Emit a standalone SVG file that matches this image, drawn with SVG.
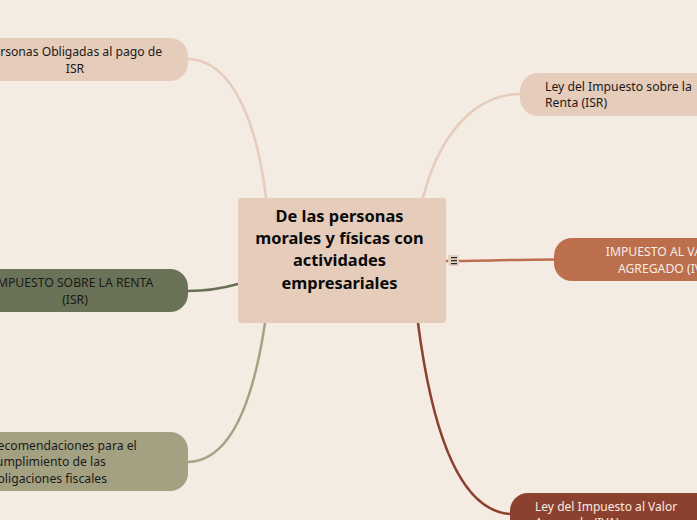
<svg xmlns="http://www.w3.org/2000/svg" width="697" height="520" viewBox="0 0 697 520">
<style>
text{font-family:"Noto Sans",sans-serif;font-size:12.2px;fill:#1a1a1a}
.w{fill:#f5ece4}
.c{text-anchor:middle}
.t{font-size:16.4px;font-weight:700;fill:#0a0a0a;text-anchor:middle}
.l{fill:none;stroke-width:2.5;stroke-linecap:round}
</style>
<rect width="697" height="520" fill="#f4ebe3"/>
<g id="connectors">
<path class="l" stroke="#e6ccba" d="M266 198C258 130 235 60 188 59"/>
<path class="l" stroke="#e6ccba" d="M423 198C435 150 465 95 520 94"/>
<path class="l" stroke="#bc6f4d" d="M446 261C480 261 520 259.500 554 259.500"/>
<path class="l" stroke="#676f55" d="M238 284C220 289 205 291 188 291"/>
<path class="l" stroke="#a5a284" d="M265 323C255 390 235 461 188 462"/>
<path class="l" stroke="#8c402e" d="M418 323C428 400 450 510 510 514"/>
</g>
<g id="n-center">
<rect x="238" y="198" width="208" height="125" rx="3" fill="#e6ccba"/>
<text class="t" x="339.500" y="222">De las personas</text>
<text class="t" x="339.500" y="244">morales y físicas con</text>
<text class="t" x="339.500" y="266">actividades</text>
<text class="t" x="339.500" y="289">empresariales</text>
</g>
<g id="n-collapse">
<rect x="448" y="255" width="11" height="11" rx="2" fill="#e6d0bf"/>
<path d="M451 257.700h6M451 260.700h6M451 263.700h6" stroke="#2a2a2a" stroke-width="1.200" fill="none"/>
</g>
<g id="n-personas">
<rect x="-60" y="38" width="248" height="43" rx="18" fill="#e6ccba"/>
<text class="c" x="74" y="56" textLength="176" lengthAdjust="spacing">Personas Obligadas al pago de</text>
<text class="c" x="75" y="73">ISR</text>
</g>
<g id="n-ley-isr">
<rect x="520" y="73" width="240" height="43" rx="18" fill="#e6ccba"/>
<text x="545" y="91">Ley del Impuesto sobre la</text>
<text x="545" y="107">Renta (ISR)</text>
</g>
<g id="n-iva">
<rect x="554" y="238" width="240" height="43" rx="18" fill="#bc6f4d"/>
<text class="c w" x="665.500" y="256">IMPUESTO AL VALOR</text>
<text class="c w" x="665.500" y="273">AGREGADO (IVA)</text>
</g>
<g id="n-isr">
<rect x="-60" y="269" width="248" height="43" rx="18" fill="#6a7257"/>
<text class="c" x="73" y="287">IMPUESTO SOBRE LA RENTA</text>
<text class="c" x="75" y="304">(ISR)</text>
</g>
<g id="n-recom">
<rect x="-60" y="432" width="248" height="59" rx="18" fill="#a3a182"/>
<text x="-10" y="450">Recomendaciones para el</text>
<text x="-10" y="466">cumplimiento de las</text>
<text x="-10" y="483">obligaciones fiscales</text>
</g>
<g id="n-ley-iva">
<rect x="510" y="493" width="240" height="59" rx="18" fill="#8c402e"/>
<text class="w" x="535" y="511" style="font-size:12.05px">Ley del Impuesto al Valor</text>
<text class="w" x="535" y="527" style="font-size:12.05px">Agregado (IVA)</text>
</g>
</svg>
